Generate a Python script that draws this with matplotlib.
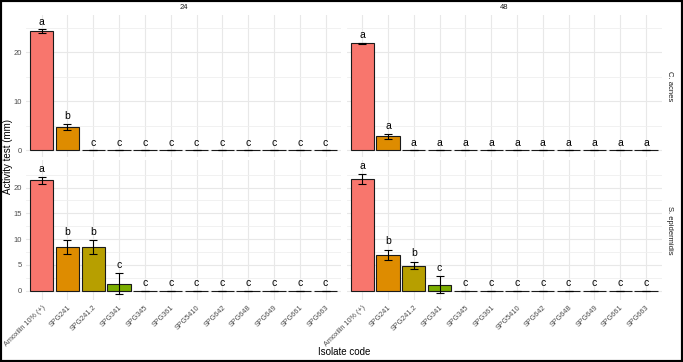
import matplotlib
matplotlib.use("Agg")
import matplotlib.pyplot as plt
from matplotlib.patches import Rectangle
import numpy as np

plt.rcParams['font.family'] = ['Liberation Sans', 'DejaVu Sans']

isolates = ["Amoxilin 10% (+)", "SPG241", "SPG241.2", "SPG341", "SPG345", "SPG361",
            "SPG5410", "SPG642", "SPG648", "SPG649", "SPG661", "SPG663"]
fill_colors = ["#F8766D", "#DE8C00", "#B79F00", "#7CAE00", "#00BA38", "#00C08B",
               "#00BFC4", "#00B4F0", "#619CFF", "#C77CFF", "#F564E3", "#FF64B0"]

times = ["24", "48"]
bacteria = ["C. acnes", "S. epidermidis"]

# C. acnes
acnes_24_mean = [24.3, 4.8, 0, 0, 0, 0, 0, 0, 0, 0, 0, 0]
acnes_24_sd = [0.4, 0.6, 0, 0, 0, 0, 0, 0, 0, 0, 0, 0]
acnes_24_letters = ["a", "b", "c", "c", "c", "c", "c", "c", "c", "c", "c", "c"]
acnes_48_mean = [21.9, 2.9, 0, 0, 0, 0, 0, 0, 0, 0, 0, 0]
acnes_48_sd = [0.1, 0.5, 0, 0, 0, 0, 0, 0, 0, 0, 0, 0]
acnes_48_letters = ["a"] * 12
# S. epidermidis
epi_24_mean = [21.4, 8.5, 8.5, 1.4, 0, 0, 0, 0, 0, 0, 0, 0]
epi_24_sd = [0.65, 1.3, 1.3, 2.0, 0, 0, 0, 0, 0, 0, 0, 0]
epi_24_letters = ["a", "b", "b", "c", "c", "c", "c", "c", "c", "c", "c", "c"]
epi_48_mean = [21.6, 7.0, 4.9, 1.2, 0, 0, 0, 0, 0, 0, 0, 0]
epi_48_sd = [1.0, 1.0, 0.75, 1.7, 0, 0, 0, 0, 0, 0, 0, 0]
epi_48_letters = ["a", "b", "b", "c", "c", "c", "c", "c", "c", "c", "c", "c"]

panels = {
    (0, 0): (acnes_24_mean, acnes_24_sd, acnes_24_letters),
    (0, 1): (acnes_48_mean, acnes_48_sd, acnes_48_letters),
    (1, 0): (epi_24_mean, epi_24_sd, epi_24_letters),
    (1, 1): (epi_48_mean, epi_48_sd, epi_48_letters),
}
row_major = {0: [0, 10, 20], 1: [0, 5, 10, 15, 20]}
row_minor = {0: [5, 15, 25], 1: [2.5, 7.5, 12.5, 17.5, 22.5]}

W, H = 683, 362
fig = plt.figure(figsize=(W / 100, H / 100), dpi=100)

col_x = [(26.2, 341.0), (346.7, 661.5)]
row_y = [(15.2, 156.8), (159.5, 300.3)]
offset = 1.6

# shared y-range per row (free_y by row)
row_lims = {}
for r in range(2):
    lo, hi = 0.0, 0.0
    for c in range(2):
        m, s, _ = panels[(r, c)]
        m = np.array(m); s = np.array(s)
        lo = min(lo, (m - s).min())
        hi = max(hi, (m + s + offset).max())
    rng = hi - lo
    row_lims[r] = (lo - 0.05 * rng, hi + 0.05 * rng)

x = np.arange(len(isolates))
grid_col = "#E8E8E8"
for (r, c), (m, s, letters) in panels.items():
    x0, x1 = col_x[c]
    y0, y1 = row_y[r]
    ax = fig.add_axes([x0 / W, 1 - y1 / H, (x1 - x0) / W, (y1 - y0) / H])
    ax.set_xlim(-0.6, len(isolates) - 0.4)
    ax.set_ylim(*row_lims[r])
    for sp in ax.spines.values():
        sp.set_visible(False)
    ax.set_yticks(row_major[r])
    ax.set_yticks(row_minor[r], minor=True)
    ax.set_xticks(x)
    ax.grid(True, which='major', color=grid_col, lw=0.8, zorder=0)
    ax.grid(True, which='minor', axis='y', color="#EFEFEF", lw=0.6, zorder=0)
    ax.set_axisbelow(True)
    ax.tick_params(which='both', length=0, pad=3, labelsize=5.5, labelcolor="#4D4D4D")
    ax.tick_params(axis='x', labelsize=5.2, pad=2.5)
    ax.bar(x, m, width=0.9, color=fill_colors, edgecolor="#1a1a1a", linewidth=0.8, zorder=2)
    ax.errorbar(x, m, yerr=s, fmt='none', ecolor='black', elinewidth=0.8,
                capsize=2.8, capthick=0.8, zorder=3)
    for xi, mi, si, lab in zip(x, m, s, letters):
        ax.text(xi, mi + si + offset, lab, ha='center', va='center', fontsize=7.5,
                color='black', zorder=4)
    if c == 1:
        ax.set_yticklabels([])
    if r == 0:
        ax.set_xticklabels([])
        ax.text(0.5, 1 + 4 / (y1 - y0), times[c], transform=ax.transAxes,
                ha='center', va='bottom', fontsize=5.5, color="#1a1a1a")
    else:
        ax.set_xticklabels(isolates, rotation=45, ha='right', va='top',
                           rotation_mode='anchor')
    if c == 1:
        ax.text(1 + 8 / (x1 - x0), 0.5, bacteria[r], transform=ax.transAxes,
                rotation=-90, ha='center', va='center', fontsize=5.5, color="#1a1a1a")

fig.text(8 / W, 1 - 157 / H, "Activity test (mm)", rotation=90, ha='center',
         va='center', fontsize=7, color='black')
fig.text(344 / W, 1 - 352 / H, "Isolate code", ha='center', va='center',
         fontsize=7, color='black')

fig.patches.append(Rectangle((0, 0), 1, 1, transform=fig.transFigure, fill=False,
                             lw=3, ec='black'))

fig.savefig("out.png", dpi=100)
